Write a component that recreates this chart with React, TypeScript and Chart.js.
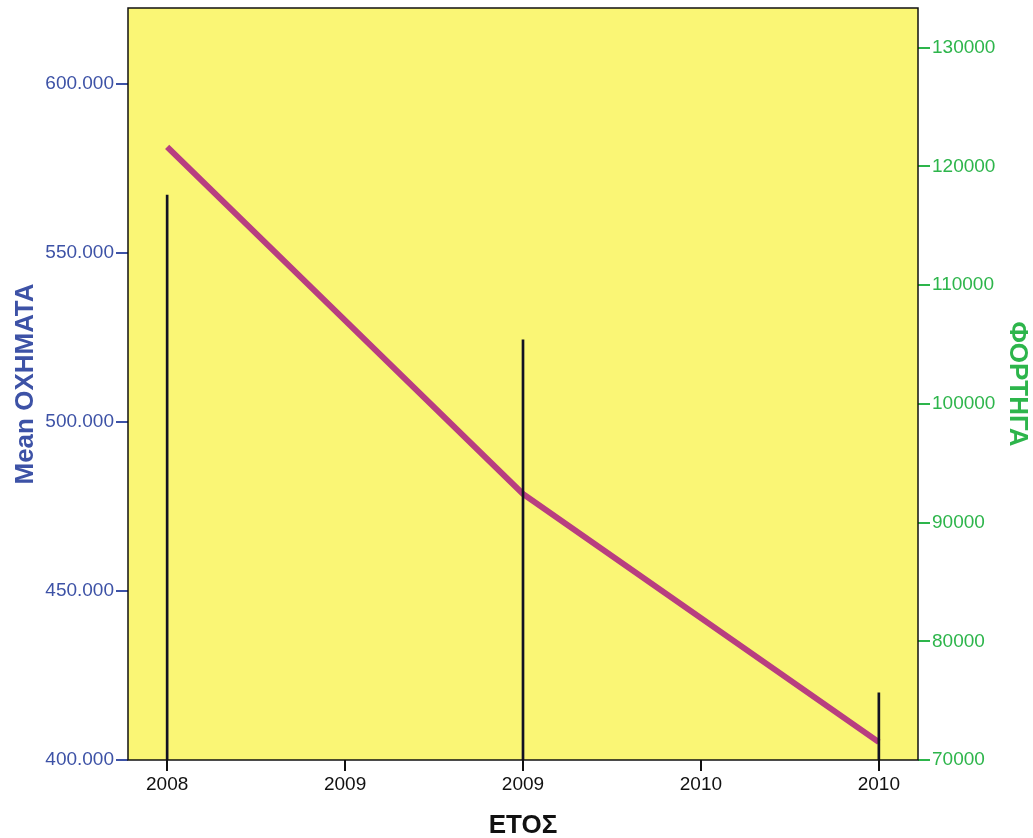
import React, { useEffect, useRef } from "react";
import { Chart, registerables } from "chart.js";

Chart.register(...registerables);

const years = [2008, 2009, 2010];
const meanOxhmata = [581400, 478700, 405300];
const fortiga = [117600, 105400, 75650];
const xTickValues = [2008, 2008.5, 2009, 2009.5, 2010];
const xTickLabels = ["2008", "2009", "2009", "2010", "2010"];
const leftTickValues = [400000, 450000, 500000, 550000, 600000];
const rightTickValues = [70000, 80000, 90000, 100000, 110000, 120000, 130000];

const BLUE = "#3D52A6";
const GREEN = "#2DB54B";
const FONT = "'Liberation Sans', Arial, sans-serif";

function fmtDots(v: number): string {
  const s = Math.round(v).toString();
  return s.replace(/\B(?=(\d{3})+(?!\d))/g, ".");
}

const framePlugin = {
  id: "frame",
  beforeDatasetsDraw(chart: any) {
    const { ctx, chartArea } = chart;
    ctx.save();
    ctx.fillStyle = "#FAF675";
    ctx.fillRect(chartArea.left, chartArea.top, chartArea.right - chartArea.left, chartArea.bottom - chartArea.top);
    ctx.restore();
  },
  afterDraw(chart: any) {
    const { ctx, chartArea } = chart;
    ctx.save();
    ctx.strokeStyle = "#111111";
    ctx.lineWidth = 1.5;
    ctx.strokeRect(chartArea.left, chartArea.top, chartArea.right - chartArea.left, chartArea.bottom - chartArea.top);
    ctx.restore();
  },
};

export default function App() {
  const ref = useRef<HTMLCanvasElement | null>(null);
  useEffect(() => {
    if (!ref.current) return;
    const chart = new Chart(ref.current, {
      type: "bar",
      data: {
        datasets: [
          {
            type: "bar",
            label: "ΦΟΡΤΗΓΑ",
            data: years.map((x, i) => ({ x, y: fortiga[i] })),
            backgroundColor: "#111122",
            borderWidth: 0,
            barThickness: 2,
            yAxisID: "y2",
            xAxisID: "x",
            order: 0,
          } as any,
          {
            type: "line",
            label: "Mean ΟΧΗΜΑΤΑ",
            data: years.map((x, i) => ({ x, y: meanOxhmata[i] })),
            borderColor: "#B83E80",
            borderWidth: 6,
            pointRadius: 0,
            tension: 0,
            fill: false,
            yAxisID: "y",
            xAxisID: "x",
            order: 1,
          } as any,
        ],
      },
      plugins: [framePlugin],
      options: {
        animation: false,
        responsive: true,
        maintainAspectRatio: false,
        layout: { padding: { top: 8, left: 0, right: 0, bottom: 0 } },
        plugins: { legend: { display: false }, tooltip: { enabled: false } },
        scales: {
          x: {
            type: "linear",
            min: 2007.89,
            max: 2010.11,
            offset: false,
            grid: { drawOnChartArea: false, drawTicks: true, tickLength: 11, color: "#111111", lineWidth: 2, offset: false },
            border: { display: false },
            afterBuildTicks: (s: any) => {
              s.ticks = xTickValues.map((v) => ({ value: v }));
            },
            afterFit: (s: any) => {
              s.height = 78;
              s.paddingLeft = 0;
              s.paddingRight = 0;
            },
            ticks: {
              autoSkip: false,
              maxRotation: 0,
              padding: 2,
              color: "#111111",
              font: { family: FONT, size: 19 },
              callback: (_v: any, i: number) => xTickLabels[i],
            },
            title: {
              display: true,
              text: "ΕΤΟΣ",
              color: "#111111",
              font: { family: FONT, size: 26, weight: "bold", lineHeight: 0.9 },
              padding: { top: 0, bottom: 0 },
            },
          },
          y: {
            type: "linear",
            position: "left",
            min: 400000,
            max: 622500,
            grid: { drawOnChartArea: false, drawTicks: true, tickLength: 12, color: BLUE, lineWidth: 2 },
            border: { display: false },
            afterBuildTicks: (s: any) => {
              s.ticks = leftTickValues.map((v) => ({ value: v }));
            },
            afterFit: (s: any) => {
              s.width = 128;
              s.paddingTop = 0;
              s.paddingBottom = 0;
            },
            ticks: {
              padding: 2,
              color: BLUE,
              font: { family: FONT, size: 19 },
              callback: (v: any) => fmtDots(Number(v)),
            },
            title: {
              display: true,
              text: "Mean ΟΧΗΜΑΤΑ",
              color: BLUE,
              font: { family: FONT, size: 26, weight: "bold", lineHeight: 1 },
              padding: { top: 13, bottom: 0 },
            },
          },
          y2: {
            type: "linear",
            position: "right",
            min: 70000,
            max: 133350,
            grid: { drawOnChartArea: false, drawTicks: true, tickLength: 12, color: GREEN, lineWidth: 2 },
            border: { display: false },
            afterBuildTicks: (s: any) => {
              s.ticks = rightTickValues.map((v) => ({ value: v }));
            },
            afterFit: (s: any) => {
              s.width = 115;
              s.paddingTop = 0;
              s.paddingBottom = 0;
            },
            ticks: {
              padding: 2,
              color: GREEN,
              font: { family: FONT, size: 19 },
              callback: (v: any) => String(v),
            },
            title: {
              display: true,
              text: "ΦΟΡΤΗΓΑ",
              color: GREEN,
              font: { family: FONT, size: 26, weight: "bold", lineHeight: 1 },
              padding: { top: 3, bottom: 0 },
            },
          },
        },
      } as any,
    });
    return () => chart.destroy();
  }, []);

  return (
    <div style={{ position: "absolute", left: 0, top: 0, width: 1033, height: 838, background: "#ffffff" }}>
      <canvas ref={ref} />
    </div>
  );
}
